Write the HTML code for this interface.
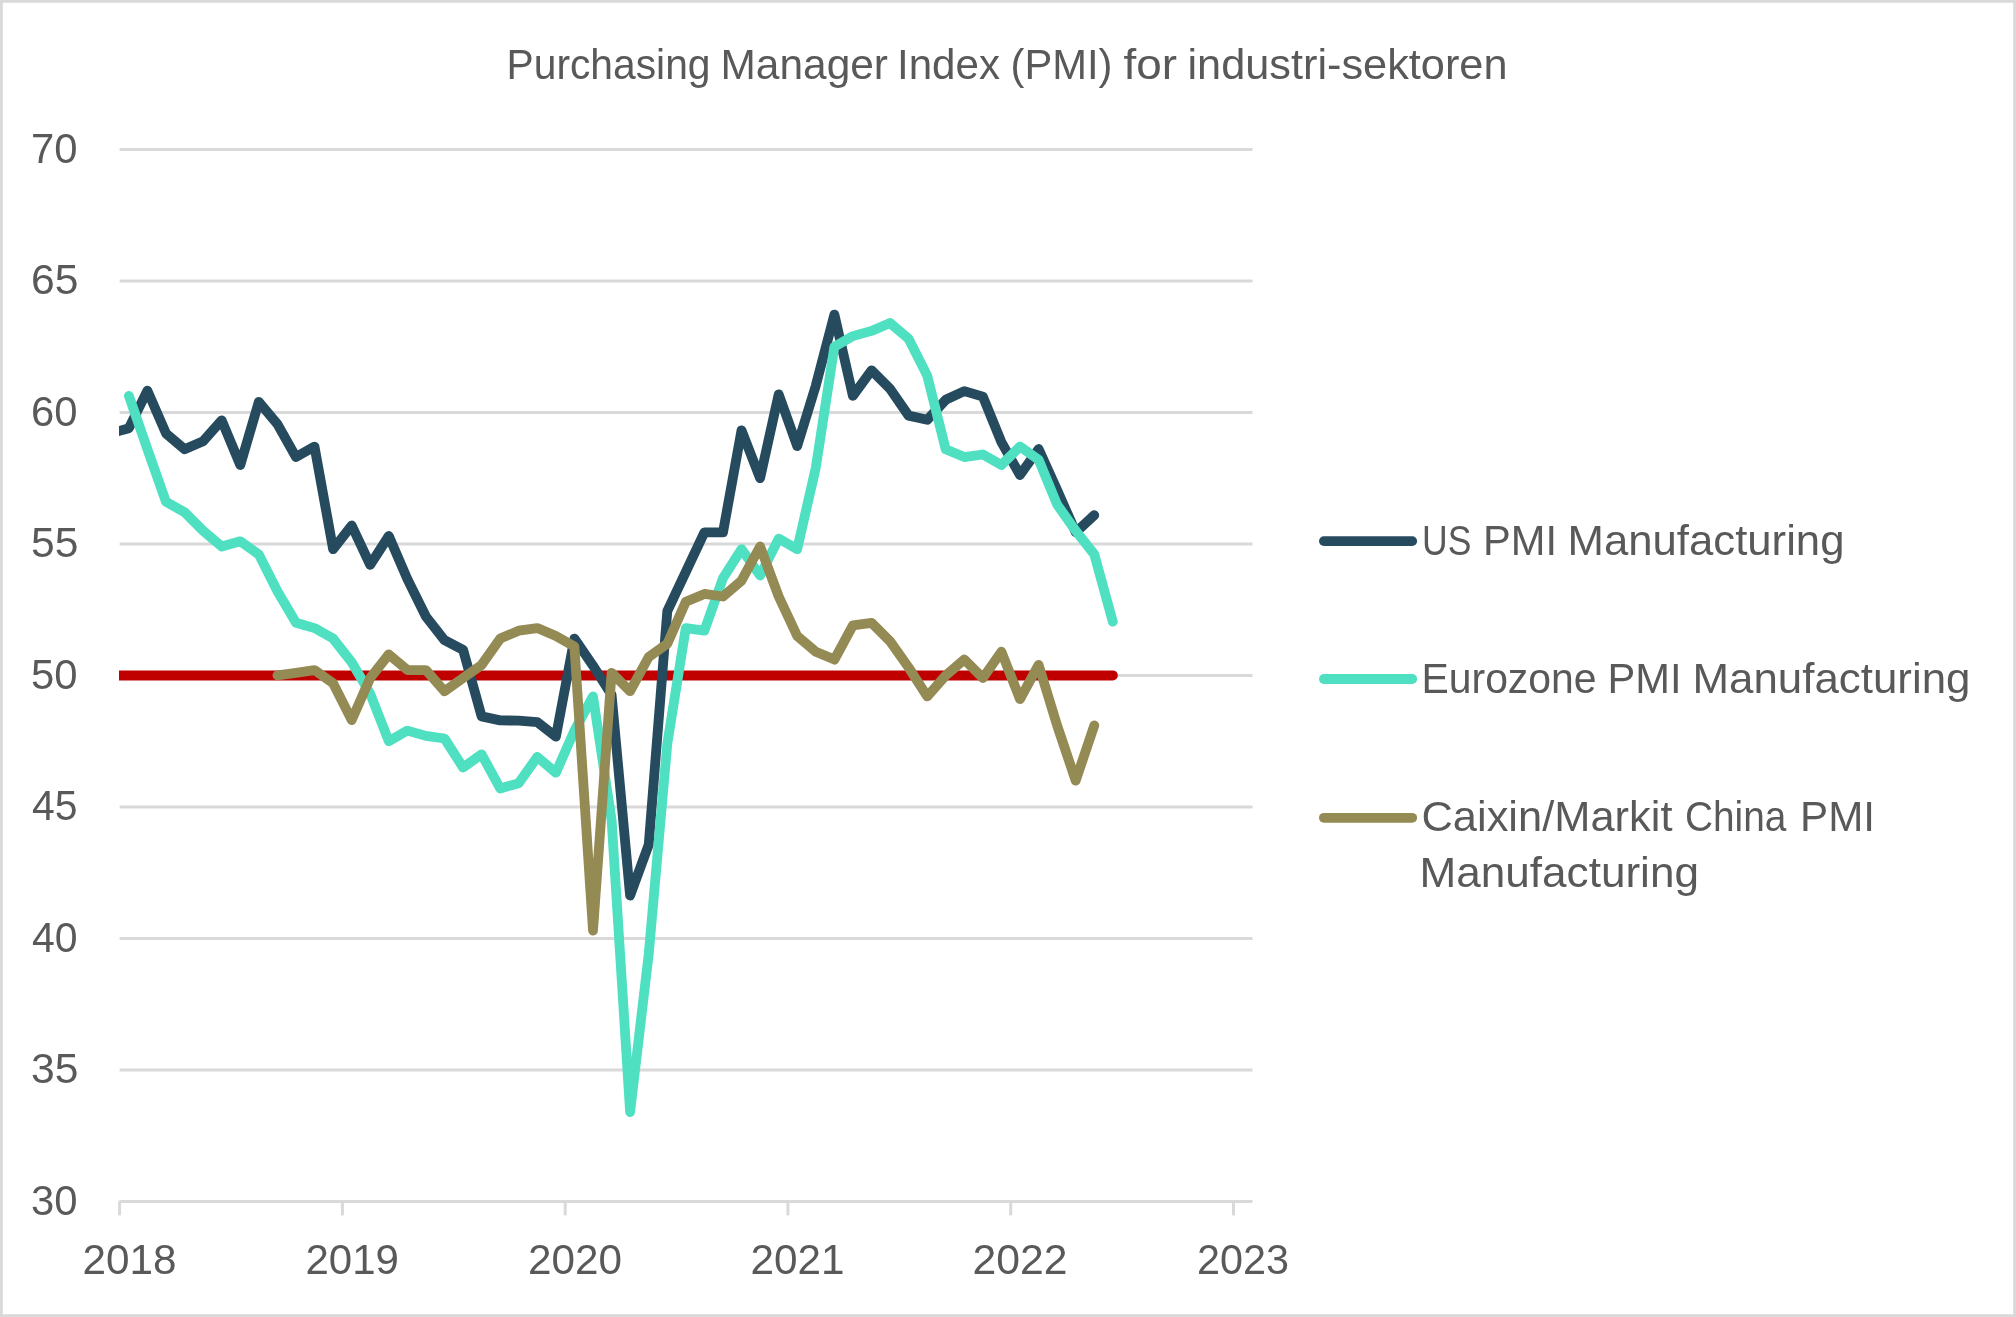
<!DOCTYPE html>
<html><head><meta charset="utf-8"><style>
html,body{margin:0;padding:0;background:#fff;}
body{width:2016px;height:1317px;overflow:hidden;position:relative;}
svg{position:absolute;left:0;top:0;display:block;will-change:transform;}
text{font-family:"Liberation Sans", sans-serif;fill:#595959;}
</style></head><body>
<svg width="2016" height="1317" viewBox="0 0 2016 1317">
<rect x="0" y="0" width="2016" height="1317" fill="#ffffff"/>
<rect x="1.4" y="1.4" width="2013.2" height="1314.2" fill="none" stroke="#d9d9d9" stroke-width="2.8"/>
<g stroke="#d9d9d9" stroke-width="3" fill="none">
<line x1="119.6" y1="1069.9" x2="1252.5" y2="1069.9"/>
<line x1="119.6" y1="938.4" x2="1252.5" y2="938.4"/>
<line x1="119.6" y1="806.9" x2="1252.5" y2="806.9"/>
<line x1="119.6" y1="675.4" x2="1252.5" y2="675.4"/>
<line x1="119.6" y1="543.9" x2="1252.5" y2="543.9"/>
<line x1="119.6" y1="412.4" x2="1252.5" y2="412.4"/>
<line x1="119.6" y1="280.9" x2="1252.5" y2="280.9"/>
<line x1="119.6" y1="149.4" x2="1252.5" y2="149.4"/>
<line x1="119.3" y1="1201.4" x2="1252.5" y2="1201.4"/>
<line x1="119.6" y1="1201.4" x2="119.6" y2="1215.4"/>
<line x1="342.4" y1="1201.4" x2="342.4" y2="1215.4"/>
<line x1="565.2" y1="1201.4" x2="565.2" y2="1215.4"/>
<line x1="787.9" y1="1201.4" x2="787.9" y2="1215.4"/>
<line x1="1010.7" y1="1201.4" x2="1010.7" y2="1215.4"/>
<line x1="1233.5" y1="1201.4" x2="1233.5" y2="1215.4"/>
</g>
<defs><clipPath id="pa"><rect x="119.0" y="100" width="1140" height="1110"/></clipPath></defs>
<g clip-path="url(#pa)" fill="none" stroke-linejoin="round" stroke-linecap="round">
<polyline points="110.3,675.4 1112.8,675.4" stroke="#c00000" stroke-width="10.0"/>
<polyline points="110.3,433.4 128.9,428.2 147.4,390.6 166.0,433.4 184.6,449.2 203.1,441.3 221.7,420.3 240.3,465.0 258.8,401.9 277.4,424.2 296.0,457.1 314.5,446.6 333.1,549.2 351.7,525.5 370.2,564.9 388.8,536.0 407.4,579.1 425.9,616.5 444.5,640.2 463.1,649.9 481.6,716.4 500.2,720.4 518.7,720.6 537.3,722.2 555.9,736.7 574.4,638.6 593.0,665.7 611.6,694.9 630.1,895.5 648.7,844.8 667.3,611.2 685.8,571.8 704.4,532.3 723.0,532.3 741.5,430.3 760.1,478.2 778.7,394.3 797.2,446.1 815.8,385.6 834.4,314.6 852.9,395.8 871.5,370.3 890.0,388.7 908.6,415.6 927.2,419.8 945.7,399.8 964.3,391.1 982.9,396.6 1001.4,442.1 1020.0,475.0 1038.6,449.0 1057.1,490.0 1075.7,532.3 1094.3,515.2" stroke="#264a5e" stroke-width="9.8"/>
<polyline points="128.9,395.8 147.4,449.2 166.0,501.8 184.6,512.3 203.1,530.8 221.7,546.5 240.3,541.3 258.8,554.4 277.4,591.2 296.0,622.8 314.5,628.1 333.1,638.6 351.7,662.3 370.2,693.8 388.8,741.2 407.4,730.6 425.9,735.9 444.5,738.5 463.1,767.5 481.6,754.3 500.2,788.5 518.7,783.2 537.3,756.9 555.9,772.7 574.4,730.6 593.0,696.4 611.6,820.1 630.1,1112.0 648.7,954.2 667.3,743.8 685.8,628.1 704.4,630.7 723.0,578.1 741.5,549.2 760.1,575.5 778.7,538.6 797.2,549.2 815.8,467.6 834.4,346.7 852.9,336.1 871.5,330.9 890.0,323.0 908.6,338.8 927.2,375.6 945.7,449.2 964.3,457.1 982.9,454.5 1001.4,465.0 1020.0,446.6 1038.6,459.7 1057.1,504.5 1075.7,530.8 1094.3,554.4 1112.8,621.7" stroke="#4fe0c2" stroke-width="9.8"/>
<polyline points="277.4,675.4 296.0,672.8 314.5,670.1 333.1,683.3 351.7,720.1 370.2,678.0 388.8,654.4 407.4,670.1 425.9,670.1 444.5,691.2 463.1,678.0 481.6,664.9 500.2,638.6 518.7,630.7 537.3,628.1 555.9,636.0 574.4,646.5 593.0,930.5 611.6,672.8 630.1,691.2 648.7,657.0 667.3,643.8 685.8,601.8 704.4,593.9 723.0,596.5 741.5,580.7 760.1,546.5 778.7,596.5 797.2,636.0 815.8,651.7 834.4,659.6 852.9,625.4 871.5,622.8 890.0,641.2 908.6,667.5 927.2,696.4 945.7,675.4 964.3,659.6 982.9,678.0 1001.4,651.7 1020.0,699.1 1038.6,664.9 1057.1,725.4 1075.7,780.6 1094.3,725.4" stroke="#948a54" stroke-width="9.8"/>
</g>
<g stroke-width="9.8" stroke-linecap="round">
<line x1="1323.9" y1="541.1" x2="1412.2" y2="541.1" stroke="#264a5e"/>
<line x1="1323.9" y1="679.0" x2="1412.2" y2="679.0" stroke="#4fe0c2"/>
<line x1="1323.9" y1="817.8" x2="1412.2" y2="817.8" stroke="#948a54"/>
</g>
<text x="506.50" y="79.40" textLength="204.02" lengthAdjust="spacingAndGlyphs" font-size="42.1">Purchasing</text>
<text x="720.50" y="79.40" textLength="167.47" lengthAdjust="spacingAndGlyphs" font-size="42.1">Manager</text>
<text x="897.00" y="79.40" textLength="102.95" lengthAdjust="spacingAndGlyphs" font-size="42.1">Index</text>
<text x="1010.50" y="79.40" textLength="101.95" lengthAdjust="spacingAndGlyphs" font-size="42.1">(PMI)</text>
<text x="1123.50" y="79.40" textLength="53.48" lengthAdjust="spacingAndGlyphs" font-size="42.1">for</text>
<text x="1187.50" y="79.40" textLength="319.99" lengthAdjust="spacingAndGlyphs" font-size="42.1">industri-sektoren</text>
<text x="31.00" y="1214.70" textLength="46.49" lengthAdjust="spacingAndGlyphs" font-size="42.1">30</text>
<text x="31.00" y="1083.20" textLength="47.49" lengthAdjust="spacingAndGlyphs" font-size="42.1">35</text>
<text x="32.00" y="951.70" textLength="45.49" lengthAdjust="spacingAndGlyphs" font-size="42.1">40</text>
<text x="32.00" y="820.20" textLength="45.49" lengthAdjust="spacingAndGlyphs" font-size="42.1">45</text>
<text x="31.00" y="688.70" textLength="46.49" lengthAdjust="spacingAndGlyphs" font-size="42.1">50</text>
<text x="31.00" y="557.20" textLength="47.49" lengthAdjust="spacingAndGlyphs" font-size="42.1">55</text>
<text x="31.00" y="425.70" textLength="46.49" lengthAdjust="spacingAndGlyphs" font-size="42.1">60</text>
<text x="31.00" y="294.20" textLength="47.49" lengthAdjust="spacingAndGlyphs" font-size="42.1">65</text>
<text x="31.00" y="162.70" textLength="46.49" lengthAdjust="spacingAndGlyphs" font-size="42.1">70</text>
<text x="82.50" y="1274.00" textLength="93.99" lengthAdjust="spacingAndGlyphs" font-size="42.1">2018</text>
<text x="305.50" y="1274.00" textLength="93.49" lengthAdjust="spacingAndGlyphs" font-size="42.1">2019</text>
<text x="528.00" y="1274.00" textLength="93.99" lengthAdjust="spacingAndGlyphs" font-size="42.1">2020</text>
<text x="750.61" y="1274.00" textLength="93.99" lengthAdjust="spacingAndGlyphs" font-size="42.1">2021</text>
<text x="972.51" y="1274.00" textLength="94.99" lengthAdjust="spacingAndGlyphs" font-size="42.1">2022</text>
<text x="1197.00" y="1274.00" textLength="91.99" lengthAdjust="spacingAndGlyphs" font-size="42.1">2023</text>
<text x="1422.00" y="554.50" textLength="49.37" lengthAdjust="spacingAndGlyphs" font-size="42.1">US</text>
<text x="1483.00" y="554.50" textLength="74.01" lengthAdjust="spacingAndGlyphs" font-size="42.1">PMI</text>
<text x="1567.50" y="554.50" textLength="276.98" lengthAdjust="spacingAndGlyphs" font-size="42.1">Manufacturing</text>
<text x="1421.50" y="692.90" textLength="175.04" lengthAdjust="spacingAndGlyphs" font-size="42.1">Eurozone</text>
<text x="1607.50" y="692.90" textLength="74.01" lengthAdjust="spacingAndGlyphs" font-size="42.1">PMI</text>
<text x="1692.50" y="692.90" textLength="277.98" lengthAdjust="spacingAndGlyphs" font-size="42.1">Manufacturing</text>
<text x="1421.50" y="831.20" textLength="250.96" lengthAdjust="spacingAndGlyphs" font-size="42.1">Caixin/Markit</text>
<text x="1685.00" y="831.20" textLength="101.42" lengthAdjust="spacingAndGlyphs" font-size="42.1">China</text>
<text x="1800.00" y="831.20" textLength="75.01" lengthAdjust="spacingAndGlyphs" font-size="42.1">PMI</text>
<text x="1419.50" y="886.50" textLength="279.48" lengthAdjust="spacingAndGlyphs" font-size="42.1">Manufacturing</text>
</svg>
</body></html>
